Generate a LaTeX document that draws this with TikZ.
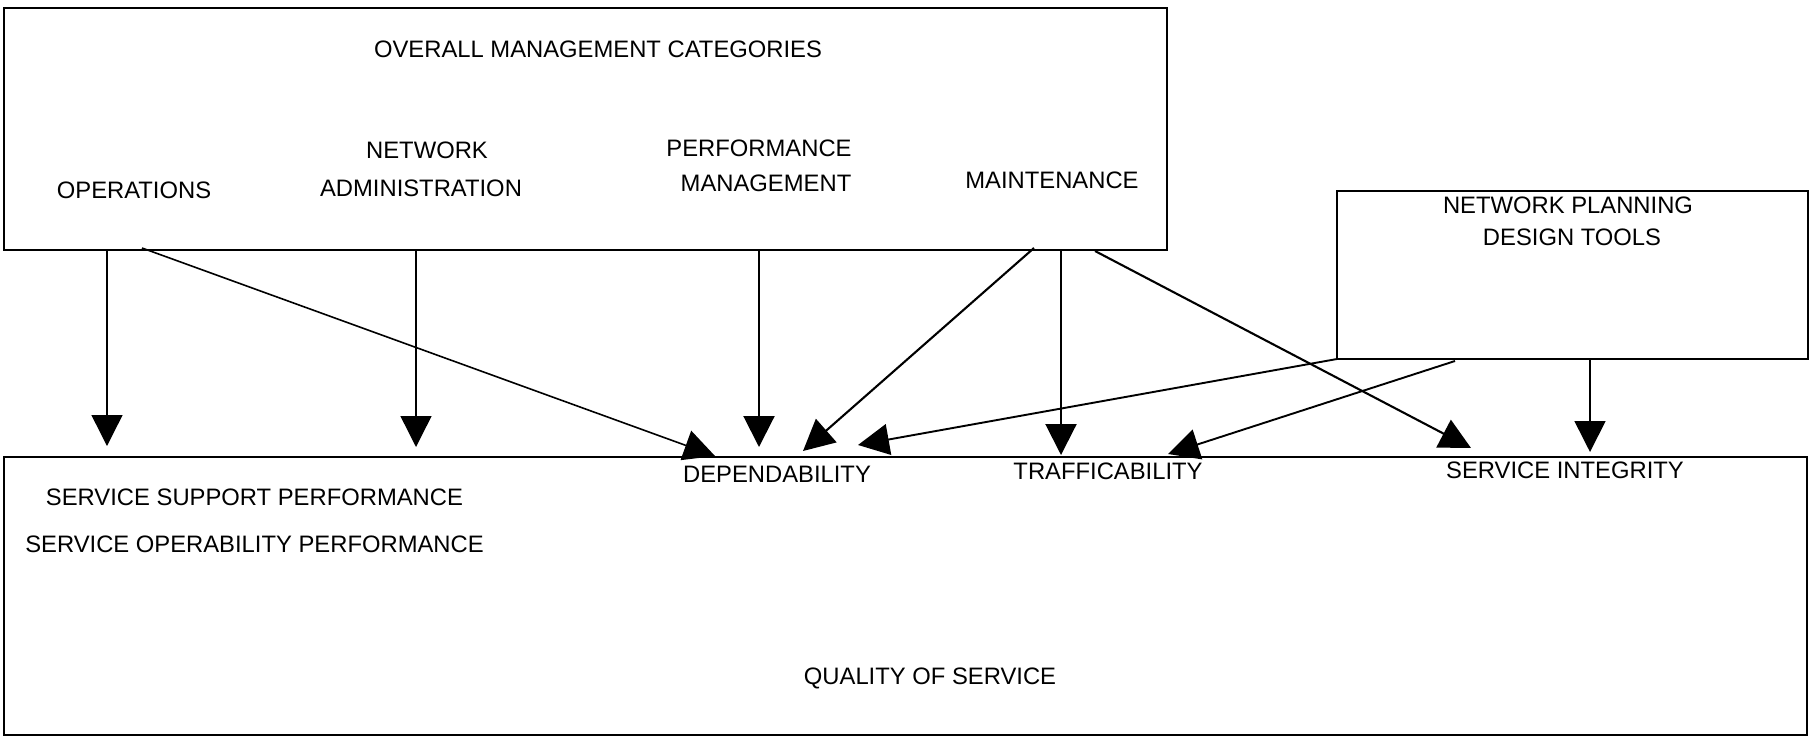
\documentclass[tikz,border=0pt]{standalone}
\usepackage{fontspec}
\setmainfont{Liberation Sans}
\usetikzlibrary{arrows.meta}
\tikzset{
  box/.style={draw, line width=2.3pt, inner sep=0pt},
  lbl/.style={inner sep=0pt, text height=17pt, text depth=0pt, anchor=center, font=\fontsize{23.8}{28}\selectfont},
  conn/.style={-{Triangle[length=31pt,width=31pt]}, line width=2.1pt},
  thinconn/.style={conn, line width=1.4pt},
}
\begin{document}
\begin{tikzpicture}[x=1pt,y=-1pt]
\useasboundingbox (0,0) rectangle (1810,739);
% boxes
\node[box, minimum width=1163pt, minimum height=242pt] (top) at (585.5,129) {};
\node[box, line width=2.1pt, minimum width=471pt, minimum height=168pt] (np) at (1572.5,275) {};
\node[box, minimum width=1803pt, minimum height=278pt] (qos) at (905.5,596) {};
% texts
\node[lbl] (omc) at (598,49) {OVERALL MANAGEMENT CATEGORIES};
\node[lbl] (ops) at (134,190) {OPERATIONS};
\node[lbl] (na1) at (427,150) {NETWORK};
\node[lbl] (na2) at (421,188) {ADMINISTRATION};
\node[lbl] (pm1) at (759,148) {PERFORMANCE};
\node[lbl] (pm2) at (766,183) {MANAGEMENT};
\node[lbl] (mnt) at (1052,180) {MAINTENANCE};
\node[lbl] (np1) at (1568,205) {NETWORK PLANNING};
\node[lbl] (np2) at (1572,237) {DESIGN TOOLS};
\node[lbl] (dep) at (777,474) {DEPENDABILITY};
\node[lbl] (trf) at (1108,471) {TRAFFICABILITY};
\node[lbl] (sin) at (1565,470) {SERVICE INTEGRITY};
\node[lbl] (ssp) at (254.5,497) {SERVICE SUPPORT PERFORMANCE};
\node[lbl] (sop) at (254.5,544) {SERVICE OPERABILITY PERFORMANCE};
\node[lbl] (qlt) at (930,676) {QUALITY OF SERVICE};
% connector ends
\coordinate (opsV) at (107,249);
\coordinate (opsD) at (142,248);
\coordinate (naV) at (416,249);
\coordinate (pmV) at (759,249);
\coordinate (mD1) at (1034,248);
\coordinate (mV) at (1061,249);
\coordinate (mD2) at (1095,251);
\coordinate (npD1) at (1337,359);
\coordinate (npD2) at (1455,361);
\coordinate (npV) at (1590,359);
\coordinate (tOpsV) at (107,446);
\coordinate (tOpsD) at (715,456);
\coordinate (tNaV) at (416,447);
\coordinate (tPmV) at (759,447);
\coordinate (tMD1) at (803,451);
\coordinate (tMV) at (1061,455);
\coordinate (tMD2) at (1471,448);
\coordinate (tNpD1) at (858,445);
\coordinate (tNpD2) at (1168,454);
\coordinate (tNpV) at (1590,452);
% connectors
\draw[thinconn] (opsV) -- (tOpsV);
\draw[conn, line width=1.6pt] (opsD) -- (tOpsD);
\draw[thinconn] (naV) -- (tNaV);
\draw[conn] (pmV) -- (tPmV);
\draw[conn] (mD1) -- (tMD1);
\draw[conn] (mV) -- (tMV);
\draw[conn] (mD2) -- (tMD2);
\draw[conn, line width=1.9pt] (npD1) -- (tNpD1);
\draw[conn, line width=1.9pt] (npD2) -- (tNpD2);
\draw[thinconn, line width=1.6pt] (npV) -- (tNpV);
\end{tikzpicture}
\end{document}
